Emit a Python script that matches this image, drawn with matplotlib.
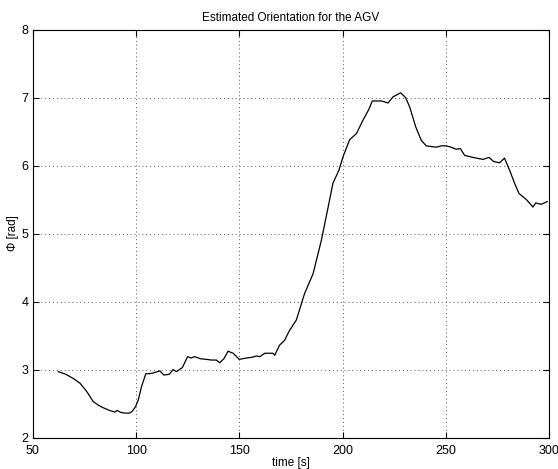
import matplotlib
matplotlib.use("Agg")
import matplotlib.pyplot as plt

plt.rcParams['font.family'] = ['Liberation Sans', 'DejaVu Sans']

# Estimated heading of the AGV over time
time_s = [62.3, 66, 70, 72.8, 76, 79.2, 82, 84, 87, 89.7, 90.8, 92.5, 94.5, 96.9, 98.2,
          99.6, 101, 102.6, 104.7, 106.5, 108.2, 111.5, 113.4, 116, 117.9, 119.5, 122.4,
          124.9, 126.5, 128.4, 131, 134, 136.5, 138.9, 140.5, 142.5, 144.5, 147, 149.9,
          153.4, 156, 158.3, 159.9, 162.3, 166.3, 167.1, 169.5, 171.9, 174, 177.6, 181.6,
          185.7, 189.7, 193, 195.3, 198.2, 200.2, 203.4, 206.7, 209.9, 212.6, 214.4,
          218.8, 222, 224.4, 228.1, 230.5, 232.5, 235.4, 238.1, 240.5, 245.4, 247.8,
          250.2, 252.5, 255, 257, 259.1, 263.1, 268, 270.9, 273.1, 276, 278.4, 280.9,
          283.3, 285.4, 289, 292.2, 293.5, 296.2, 299.1]
phi_rad = [2.97, 2.93, 2.86, 2.80, 2.68, 2.53, 2.47, 2.44, 2.40, 2.375, 2.40, 2.37, 2.36,
           2.36, 2.39, 2.45, 2.55, 2.75, 2.94, 2.94, 2.95, 2.98, 2.92, 2.93, 3.00, 2.97,
           3.03, 3.19, 3.17, 3.19, 3.16, 3.15, 3.14, 3.14, 3.10, 3.16, 3.27, 3.24, 3.15,
           3.17, 3.18, 3.20, 3.19, 3.24, 3.24, 3.21, 3.36, 3.43, 3.56, 3.73, 4.12, 4.41,
           4.90, 5.39, 5.74, 5.93, 6.13, 6.38, 6.47, 6.67, 6.82, 6.95, 6.95, 6.92, 7.01,
           7.07, 7.00, 6.86, 6.57, 6.37, 6.29, 6.27, 6.29, 6.29, 6.27, 6.24, 6.25, 6.15,
           6.12, 6.09, 6.12, 6.06, 6.04, 6.11, 5.93, 5.74, 5.59, 5.50, 5.39, 5.45, 5.43,
           5.47]

x_ticks = [50, 100, 150, 200, 250, 300]
y_ticks = [2, 3, 4, 5, 6, 7, 8]

fig = plt.figure(figsize=(5.58, 4.69), dpi=100)
ax = fig.add_axes([0.059, 0.067, 0.925, 0.870])

ax.plot(time_s, phi_rad, color='black', linewidth=0.9)

ax.set_xlim(50, 300)
ax.set_ylim(2, 8)
ax.set_xticks(x_ticks)
ax.set_yticks(y_ticks)
ax.grid(True, linestyle=(0, (1, 3)), color='#555555', linewidth=0.7)
ax.tick_params(direction='in', top=True, right=True, length=4, width=0.8,
               labelsize=9)
ax.tick_params(axis='x', pad=5)
ax.tick_params(axis='y', pad=3)
for s in ax.spines.values():
    s.set_linewidth(0.8)

ax.set_title('Estimated Orientation for the AGV', fontsize=8.5, pad=6)
ax.set_xlabel('time [s]', fontsize=8.5, labelpad=0)
ax.set_ylabel('Φ [rad]', fontsize=8.5, labelpad=2)

fig.savefig('out.png', dpi=100)
